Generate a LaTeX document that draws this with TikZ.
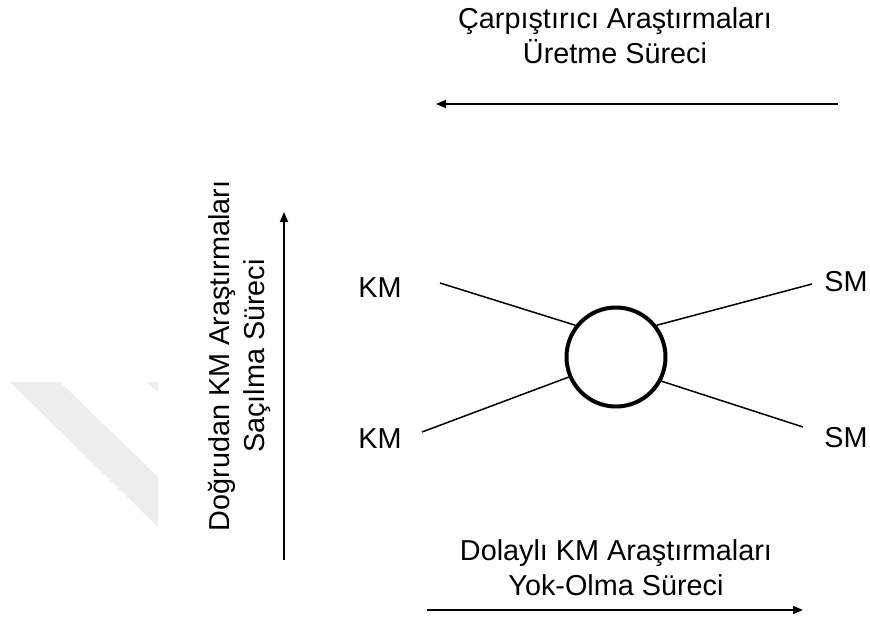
\documentclass[tikz,border=0pt]{standalone}
\usepackage{fontspec}
\setmainfont{Liberation Sans}
\usetikzlibrary{arrows.meta}
\definecolor{wmgray}{RGB}{237,237,237}
\tikzset{
  lbl/.style={font=\fontsize{28.8}{35}\selectfont, inner sep=0pt, align=center},
  leg/.style={line width=1.5pt},
  proc/.style={line width=1.6pt, -{Triangle[length=10pt,width=8pt]}},
  vert/.style={draw, circle, line width=4pt, minimum size=99pt, inner sep=0pt}
}
\begin{document}
\begin{tikzpicture}[x=1pt,y=-1pt]
\useasboundingbox (0,0) rectangle (870,621);
% watermark
\fill[wmgray] (10,382) -- (60,382) -- (158,477) -- (158,527) -- cycle;
\fill[wmgray] (147,382) -- (158,382) -- (158,392) -- cycle;
% vertex
\node[vert] (v) at (616,357) {};
% labels
\node[lbl, anchor=base] (km1) at (380,297) {KM};
\node[lbl, anchor=base] (km2) at (380,448) {KM};
\node[lbl, anchor=base] (sm1) at (846,291) {SM};
\node[lbl, anchor=base] (sm2) at (846,447) {SM};
\coordinate (km1e) at (440,283);
\coordinate (km2e) at (422,432);
\coordinate (sm1e) at (812,284);
\coordinate (sm2e) at (803,427);
\draw[leg] (km1e) -- (v.142.5);
\draw[leg] (km2e) -- (v.203.7);
\draw[leg] (sm1e) -- (v.38.8);
\draw[leg] (sm2e) -- (v.-28);
% process texts
\node[lbl] (prod) at (615,36) {Çarpıştırıcı Araştırmaları\\Üretme Süreci};
\node[lbl] (ann) at (616,568) {Dolaylı KM Araştırmaları\\Yok-Olma Süreci};
\node[lbl, rotate=90] (scat) at (239,356) {Doğrudan KM Araştırmaları\\Saçılma Süreci};
% arrows
\coordinate (p1) at (838,104);
\coordinate (p2) at (436,104);
\coordinate (a1) at (427,610);
\coordinate (a2) at (803,610);
\coordinate (s1) at (284,560);
\coordinate (s2) at (284,212);
\draw[proc] (p1) -- (p2);
\draw[proc] (a1) -- (a2);
\draw[proc] (s1) -- (s2);
\end{tikzpicture}
\end{document}
